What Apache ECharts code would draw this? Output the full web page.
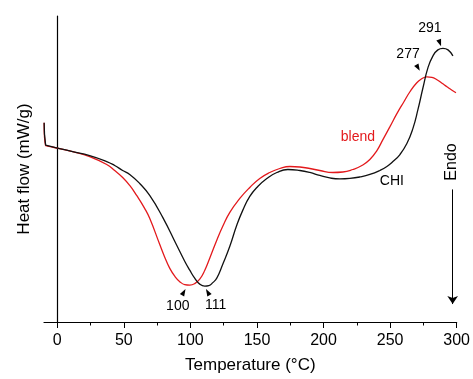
<!DOCTYPE html>
<html>
<head>
<meta charset="utf-8">
<script src="https://cdn.jsdelivr.net/npm/echarts@6/dist/echarts.min.js"></script>
<style>
  html, body { margin: 0; padding: 0; background: #fff; }
  #main { width: 473px; height: 379px; }
</style>
</head>
<body>
<div id="main"></div>
<script>
// DSC traces; heat flow has no scale on the original, so arbitrary units
var chiT = [-9.9, -8.8, -7.3, 1.7, 11.5, 24.3, 37.1, 43.1, 49.1, 54.4, 61.9, 69.4, 79.2, 89.7, 95.7, 99.5,
            103.2, 107.0, 110.8, 113.8, 116.8, 119.8, 124.3, 129.6, 134.8, 139.3, 144.6, 150.6, 157.4, 164.9,
            173.2, 182.2, 189.7, 197.2, 204.7, 212.3, 219.8, 227.3, 234.8, 242.3, 247.6, 252.1, 257.4, 262.6,
            267.1, 270.9, 274.7, 278.4, 282.2, 285.9, 289.7, 293.5, 297.2];
var chiV = [200, 178, 177, 174, 171, 167, 161, 157, 152, 148, 139, 127, 105, 77, 61, 52,
            44, 38, 36, 36.5, 39.5, 44, 58, 76, 97, 112, 126, 136, 144, 150,
            153, 152, 150, 147, 144.5, 143.5, 144, 145.5, 148, 152, 156, 161, 168, 179,
            194, 213, 235, 255, 267, 273, 274.5, 273, 267];

var blendT = [-9.9, -8.8, -7.3, 1.7, 11.5, 24.3, 37.1, 43.1, 49.1, 54.4, 59.6, 65.6, 69.4, 76.9, 80.7, 84.4,
              88.2, 92.0, 95.7, 99.5, 103.2, 107.0, 110.8, 114.5, 119.8, 124.3, 129.6, 137.1, 144.6, 152.1,
              159.6, 167.1, 174.7, 182.2, 189.7, 197.2, 207.0, 214.5, 222.0, 228.8, 234.8, 240.1, 244.6, 249.9,
              255.1, 260.4, 264.9, 269.4, 273.2, 277.7, 281.4, 285.2, 289.0, 292.7, 296.5, 299.5];
var blendV = [200, 177, 176.5, 174, 171, 166, 158, 152, 145, 137, 127, 114, 104, 78, 65, 54,
              46, 40.5, 37.5, 37, 38.5, 43, 52, 64, 82, 96, 110, 124, 135, 144,
              150, 154, 156, 155.5, 154, 152, 150, 150.5, 153, 157, 163, 172, 183, 196,
              209, 221, 231, 239, 243.5, 246, 245.5, 243, 239.5, 236, 232.5, 230];

var xTicks = [0, 50, 100, 150, 200, 250, 300];
var xMinorTicks = [25, 75, 125, 175, 225, 275];

var font = 'Liberation Sans, Arial, sans-serif';

function zip(xs, ys) {
    var out = [];
    for (var i = 0; i < xs.length; i++) {
        out.push([xs[i], ys[i]]);
    }
    return out;
}

// little black arrowheads next to the peak temperatures
function peak(txt, coord, rot, offset) {
    return {
        coord: coord,
        symbol: 'triangle',
        symbolSize: [5, 7],
        symbolRotate: rot,
        itemStyle: {color: '#000'},
        label: {
            show: true, formatter: txt, position: 'inside', offset: offset,
            color: '#000', fontSize: 14, fontFamily: font
        }
    };
}

function tag(txt, coord, color) {
    return {
        coord: coord,
        symbol: 'circle',
        symbolSize: 0,
        label: {
            show: true, formatter: txt, position: 'inside',
            color: color, fontSize: 14, fontFamily: font
        }
    };
}

var chart = echarts.init(document.getElementById('main'));

chart.setOption({
    animation: false,
    backgroundColor: '#fff',
    grid: {left: 44, right: 16, top: 16, bottom: 56, containLabel: false},
    xAxis: [{
        type: 'value',
        min: -10,
        max: 300,
        name: 'Temperature (°C)',
        nameLocation: 'middle',
        nameGap: 35,
        nameTextStyle: {color: '#000', fontSize: 17, fontFamily: font},
        axisLine: {show: true, lineStyle: {color: '#000', width: 1.2}},
        axisTick: {show: true, customValues: xTicks, length: 6, inside: false, lineStyle: {color: '#000'}},
        axisLabel: {show: true, customValues: xTicks, margin: 11, color: '#000', fontSize: 16, fontFamily: font},
        splitLine: {show: false}
    }, {
        // minor ticks only
        type: 'value',
        min: -10,
        max: 300,
        position: 'bottom',
        axisLine: {show: false},
        axisTick: {show: true, customValues: xMinorTicks, length: 3.5, lineStyle: {color: '#000'}},
        axisLabel: {show: false},
        splitLine: {show: false}
    }],
    yAxis: {
        type: 'value',
        min: 0,
        max: 307,
        name: 'Heat flow (mW/g)',
        nameLocation: 'middle',
        nameGap: 11,
        nameTextStyle: {color: '#000', fontSize: 17, fontFamily: font},
        axisLine: {show: true, lineStyle: {color: '#000', width: 1.2}},
        axisTick: {show: false},
        axisLabel: {show: false},
        splitLine: {show: false}
    },
    series: [{
        name: 'CHI',
        type: 'line',
        data: zip(chiT, chiV),
        smooth: 0.5,
        showSymbol: false,
        z: 3,
        lineStyle: {color: '#111', width: 1.3},
        markPoint: {
            silent: true,
            data: [
                peak('100', [95, 30], -30, [-6, 14]),
                peak('111', [113, 30], 30, [8, 13]),
                peak('277', [271, 255], 210, [-10, -14]),
                peak('291', [287.4, 280], 200, [-10, -15]),
                tag('CHI', [251.3, 141], '#000')
            ]
        },
        markLine: {
            silent: true,
            symbol: ['none', 'arrow'],
            symbolSize: 8,
            lineStyle: {color: '#000', width: 1, type: 'solid'},
            label: {show: false},
            data: [[{coord: [297, 133]}, {coord: [297, 18]}]]
        }
    }, {
        name: 'blend',
        type: 'line',
        data: zip(blendT, blendV),
        smooth: 0.5,
        showSymbol: false,
        z: 2,
        lineStyle: {color: '#e3191c', width: 1.3},
        markPoint: {
            silent: true,
            data: [tag('blend', [225.8, 185], '#e3191c')]
        }
    }],
    graphic: [{
        type: 'text',
        x: 452,
        y: 162,
        rotation: Math.PI / 2,
        style: {
            text: 'Endo', fill: '#000', font: '16px ' + font,
            align: 'center', verticalAlign: 'middle'
        }
    }]
});
</script>
</body>
</html>
